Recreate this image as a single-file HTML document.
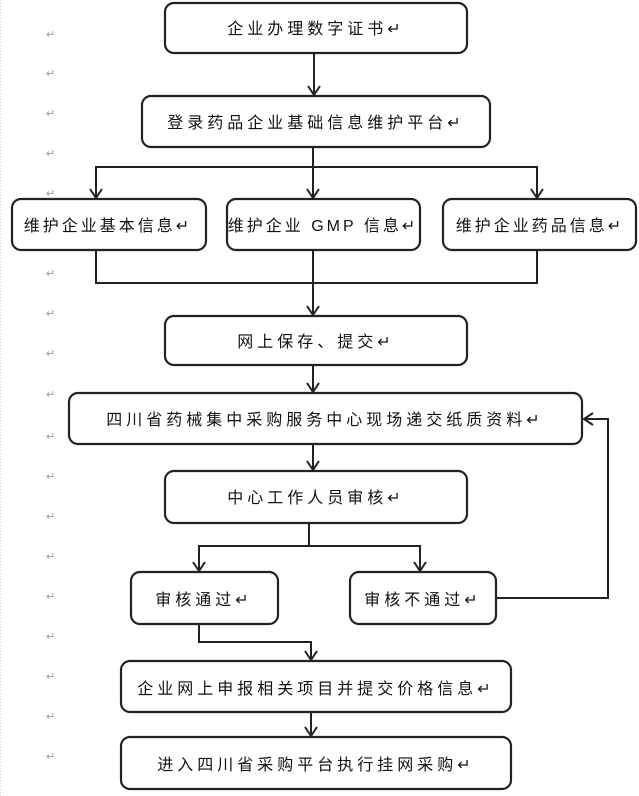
<!DOCTYPE html>
<html><head><meta charset="utf-8"><style>
body{margin:0;background:#fff;}
svg{display:block;}
text{font-family:"Liberation Sans","Noto Sans CJK SC",sans-serif;font-size:16px;fill:#111;letter-spacing:4px;}
.m{font-size:11px;fill:#999;letter-spacing:0;}
rect{fill:#fff;stroke:#222;stroke-width:2.2;}
.l{fill:none;stroke:#222;stroke-width:2;}
</style></head><body>
<svg width="639" height="796" viewBox="0 0 639 796">
<line x1="0.5" y1="0" x2="0.5" y2="796" stroke="#bfe0bf" stroke-dasharray="1,2"/>
<g>
<text class="m" x="46" y="38">↵</text><text class="m" x="46" y="77">↵</text><text class="m" x="46" y="117">↵</text><text class="m" x="46" y="157">↵</text><text class="m" x="46" y="197">↵</text><text class="m" x="46" y="277">↵</text><text class="m" x="46" y="317">↵</text><text class="m" x="46" y="357">↵</text><text class="m" x="46" y="398">↵</text><text class="m" x="46" y="440">↵</text><text class="m" x="46" y="480">↵</text><text class="m" x="46" y="520">↵</text><text class="m" x="46" y="560">↵</text><text class="m" x="46" y="600">↵</text><text class="m" x="46" y="640">↵</text><text class="m" x="46" y="680">↵</text><text class="m" x="46" y="720">↵</text><text class="m" x="46" y="760">↵</text>
</g>
<!-- connectors -->
<line class="l" x1="314" y1="53" x2="314" y2="94"/>
<line class="l" x1="313" y1="147" x2="313" y2="197"/>
<polyline class="l" points="96,197 96,167 537,167 537,197"/>
<polyline class="l" points="96,250 96,283 537,283 537,250"/>
<line class="l" x1="313" y1="250" x2="313" y2="314"/>
<line class="l" x1="313" y1="365" x2="313" y2="391"/>
<line class="l" x1="313" y1="444" x2="313" y2="469"/>
<polyline class="l" points="309,523 309,546 199,546 199,570"/>
<polyline class="l" points="309,546 420,546 420,570"/>
<polyline class="l" points="496,598 608,598 608,419 585,419"/>
<polyline class="l" points="199,624 199,642 311,642 311,659"/>
<line class="l" x1="311" y1="712" x2="311" y2="735"/>
<!-- arrowheads -->
<g class="l">
<path d="M308,86 L314,95 L320,86"/>
<path d="M90,189 L96,198 L102,189"/>
<path d="M307,189 L313,198 L319,189"/>
<path d="M531,189 L537,198 L543,189"/>
<path d="M307,306 L313,315 L319,306"/>
<path d="M307,383 L313,392 L319,383"/>
<path d="M307,461 L313,470 L319,461"/>
<path d="M193,562 L199,571 L205,562"/>
<path d="M414,562 L420,571 L426,562"/>
<path d="M593,413 L584,419 L593,425"/>
<path d="M305,651 L311,660 L317,651"/>
<path d="M305,727 L311,736 L317,727"/>
</g>
<!-- boxes -->
<rect x="165" y="3" width="302" height="50" rx="9"/>
<text x="316" y="34" text-anchor="middle">企业办理数字证书↵</text>
<rect x="142" y="96" width="348" height="51" rx="9"/>
<text x="316" y="128" text-anchor="middle">登录药品企业基础信息维护平台↵</text>
<rect x="12" y="199" width="194" height="51" rx="9"/>
<text x="108" y="231" text-anchor="middle" style="letter-spacing:3px">维护企业基本信息↵</text>
<rect x="227" y="199" width="193" height="51" rx="9"/>
<text x="323" y="231" text-anchor="middle" style="letter-spacing:3px">维护企业 GMP 信息↵</text>
<rect x="443" y="199" width="193" height="51" rx="9"/>
<text x="540" y="231" text-anchor="middle" style="letter-spacing:3px">维护企业药品信息↵</text>
<rect x="165" y="316" width="302" height="49" rx="9"/>
<text x="316" y="347" text-anchor="middle">网上保存、提交↵</text>
<rect x="69" y="393" width="513" height="51" rx="9"/>
<text x="325" y="425" text-anchor="middle">四川省药械集中采购服务中心现场递交纸质资料↵</text>
<rect x="165" y="471" width="302" height="52" rx="9"/>
<text x="316" y="503" text-anchor="middle">中心工作人员审核↵</text>
<rect x="131" y="572" width="147" height="52" rx="9"/>
<text x="204" y="605" text-anchor="middle">审核通过↵</text>
<rect x="350" y="572" width="146" height="52" rx="9"/>
<text x="423" y="605" text-anchor="middle">审核不通过↵</text>
<rect x="121" y="661" width="390" height="51" rx="9"/>
<text x="316" y="694" text-anchor="middle">企业网上申报相关项目并提交价格信息↵</text>
<rect x="121" y="737" width="390" height="52" rx="9"/>
<text x="316" y="770" text-anchor="middle">进入四川省采购平台执行挂网采购↵</text>
</svg>
</body></html>
